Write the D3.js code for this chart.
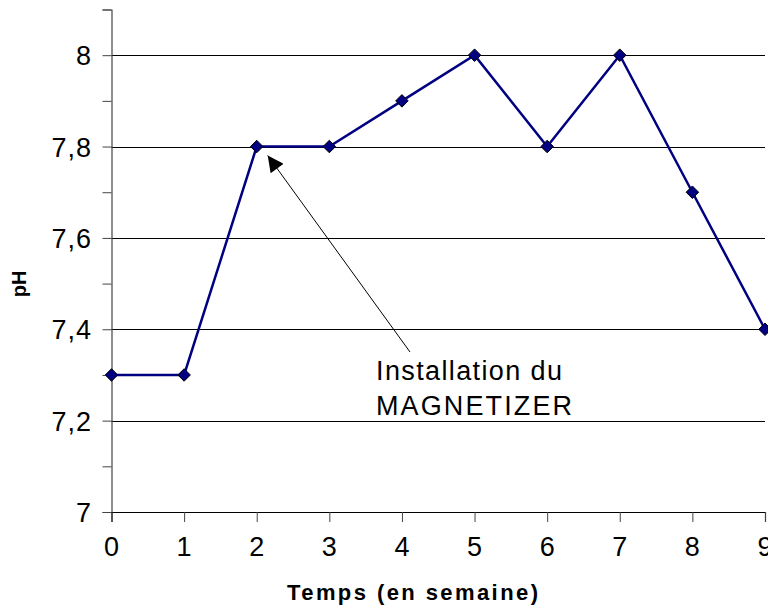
<!DOCTYPE html>
<html>
<head>
<meta charset="utf-8">
<script src="https://cdn.jsdelivr.net/npm/d3@7"></script>
<style>
  body { margin: 0; background: #fff; }
  svg { display: block; font-family: "Liberation Sans", Arial, sans-serif; }
</style>
</head>
<body>
<div id="chart"></div>
<script>
// data
var weeks = [0, 1, 2, 3, 4, 5, 6, 7, 8, 9];
var phValues = [7.3, 7.3, 7.8, 7.8, 7.9, 8, 7.8, 8, 7.7, 7.4];
var yTicks = [7, 7.1, 7.2, 7.3, 7.4, 7.5, 7.6, 7.7, 7.8, 7.9, 8, 8.1];
var yLabels = [7, 7.2, 7.4, 7.6, 7.8, 8];
var noteLines = ["Installation du", "MAGNETIZER"];
var noteLens = [186, 196];
var noteAt = 2; // arrow points at week 2

var width = 768, height = 609;
var lineCol = "#000080";

var svg = d3.select("#chart").append("svg")
    .attr("width", width)
    .attr("height", height);

var x = d3.scaleLinear().domain([0, 9]).range([111.5, 765]);
var y = d3.scaleLinear().domain([7, 8.1]).range([512, 9.5]);

var fmt = function (v) { return String(+v.toFixed(1)).replace(".", ","); };

// gridlines
svg.append("g").selectAll("line")
    .data(yLabels.filter(function (v) { return v > 7; }))
    .enter().append("line")
    .attr("x1", x(0)).attr("x2", 765)
    .attr("y1", function (d) { return Math.round(y(d)) + 0.5; })
    .attr("y2", function (d) { return Math.round(y(d)) + 0.5; })
    .attr("stroke", "#000").attr("stroke-width", 1);

// y axis
var yAxis = d3.axisLeft(y).tickValues(yTicks).tickSize(9).tickFormat("");
var gy = svg.append("g").attr("transform", "translate(" + (x(0)) + ",0)").call(yAxis);
gy.select(".domain").attr("stroke", "#444").attr("stroke-width", 1.2);
gy.selectAll(".tick line").attr("stroke", "#444");

svg.append("g").selectAll("text")
    .data(yLabels)
    .enter().append("text")
    .attr("x", 92)
    .attr("y", function (d) { return y(d) + 10; })
    .attr("text-anchor", "end")
    .attr("font-size", 27)
    .attr("letter-spacing", 1)
    .text(fmt);

// x axis
var xAxis = d3.axisBottom(x).tickValues(weeks).tickSize(10).tickFormat("");
var gx = svg.append("g").attr("transform", "translate(0," + y(7) + ")").call(xAxis);
gx.select(".domain").attr("stroke", "#000").attr("stroke-width", 1.2);
gx.selectAll(".tick line").attr("stroke", "#444");

svg.append("g").selectAll("text")
    .data(weeks)
    .enter().append("text")
    .attr("x", function (d) { return x(d); })
    .attr("y", 556)
    .attr("text-anchor", "middle")
    .attr("font-size", 27)
    .text(function (d) { return d; });

// axis titles
svg.append("text")
    .attr("x", 287).attr("y", 600)
    .attr("font-size", 22).attr("font-weight", "bold")
    .attr("textLength", 251).attr("lengthAdjust", "spacing")
    .text("Temps (en semaine)");

svg.append("text")
    .attr("transform", "translate(26,284) rotate(-90)")
    .attr("text-anchor", "middle")
    .attr("font-size", 20).attr("font-weight", "bold")
    .text("pH");

// series line
var line = d3.line()
    .x(function (d, i) { return x(weeks[i]); })
    .y(function (d) { return y(d); });

svg.append("path")
    .datum(phValues)
    .attr("d", line)
    .attr("fill", "none")
    .attr("stroke", lineCol)
    .attr("stroke-width", 2.5);

// markers
var diamond = d3.symbol().type(d3.symbolDiamond2).size(100);
svg.append("g").selectAll("path")
    .data(phValues)
    .enter().append("path")
    .attr("d", diamond)
    .attr("transform", function (d, i) { return "translate(" + x(weeks[i]) + "," + y(d) + ")"; })
    .attr("fill", lineCol)
    .attr("stroke", "#000")
    .attr("stroke-width", 1);

// annotation
svg.append("defs").append("marker")
    .attr("id", "arrow")
    .attr("viewBox", "0 0 10 10")
    .attr("refX", 10).attr("refY", 5)
    .attr("markerWidth", 24).attr("markerHeight", 16)
    .attr("markerUnits", "userSpaceOnUse")
    .attr("orient", "auto")
    .append("path")
    .attr("d", "M0,0 L10,5 L0,10 z")
    .attr("fill", "#000");

svg.append("line")
    .attr("x1", 410).attr("y1", 352)
    .attr("x2", x(noteAt) + 11).attr("y2", y(phValues[noteAt]) + 9)
    .attr("stroke", "#000").attr("stroke-width", 1)
    .attr("marker-end", "url(#arrow)");

svg.append("g").selectAll("text")
    .data(noteLines)
    .enter().append("text")
    .attr("x", 376)
    .attr("y", function (d, i) { return 380 + i * 35; })
    .attr("font-size", 27)
    .attr("textLength", function (d, i) { return noteLens[i]; })
    .attr("lengthAdjust", "spacing")
    .text(function (d) { return d; });
</script>
</body>
</html>
